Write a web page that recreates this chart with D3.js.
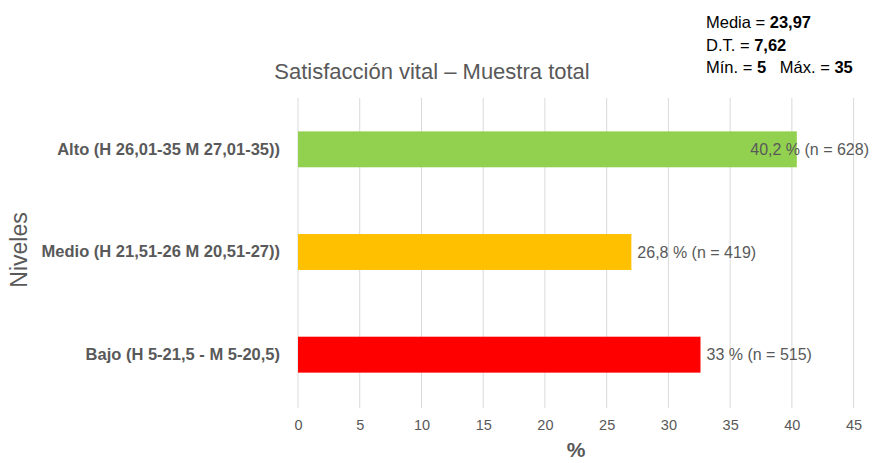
<!DOCTYPE html>
<html>
<head>
<meta charset="utf-8">
<script src="https://cdn.jsdelivr.net/npm/d3@7"></script>
<style>
    body { margin: 0; background: #fff; }
    svg { display: block; }
</style>
</head>
<body>
<div id="chart"></div>
<script>
/******************************************************
 * Satisfacción vital - horizontal bar chart
*******************************************************/

//! DATA
const categories = [
    "Alto (H 26,01-35 M 27,01-35))",
    "Medio (H 21,51-26 M 20,51-27))",
    "Bajo (H 5-21,5 - M 5-20,5)"
];
const values = [40.4, 27.0, 32.6];
const barLabels = ["40,2 % (n = 628)", "26,8 % (n = 419)", "33 % (n = 515)"];
const barColors = ["#92d050", "#ffc000", "#ff0000"];
const xTicks = [0, 5, 10, 15, 20, 25, 30, 35, 40, 45];
const statLines = [
    ["Media = ", "23,97"],
    ["D.T. = ", "7,62"],
    ["Mín. = ", "5", "   Máx. = ", "35"]
];

//! CONSTANTS
const WIDTH = 872;
const HEIGHT = 463;
const FONT = "'Liberation Sans', Arial, sans-serif";
const GRAY = "#595959";
const MARGIN = { top: 98, right: 19, bottom: 57, left: 298 };

/******************************************************
 * Main draw
*******************************************************/
function draw() {
    const svg = d3.select("#chart").append("svg")
        .attr("width", WIDTH)
        .attr("height", HEIGHT)
        .style("font-family", FONT);

    const x = d3.scaleLinear()
        .domain([0, 45])
        .range([MARGIN.left, WIDTH - MARGIN.right + 0.6]);

    const y = d3.scaleBand()
        .domain(categories)
        .range([MARGIN.top, HEIGHT - MARGIN.bottom])
        .paddingInner(0.65)
        .paddingOuter(0.325);

    // Gridlines
    svg.append("g")
        .selectAll("line")
        .data(xTicks)
        .enter().append("line")
        .attr("x1", d => x(d)).attr("x2", d => x(d))
        .attr("y1", MARGIN.top).attr("y2", HEIGHT - MARGIN.bottom + 2)
        .style("stroke", "#d9d9d9")
        .style("stroke-width", 1);

    // X axis (labels only)
    const xAxis = svg.append("g")
        .attr("transform", `translate(0, ${HEIGHT - MARGIN.bottom + 14})`)
        .call(d3.axisBottom(x).tickValues(xTicks).tickSize(0).tickPadding(0));
    xAxis.select(".domain").remove();
    xAxis.selectAll("text")
        .style("font-family", FONT)
        .style("font-size", "14.5px")
        .style("fill", GRAY);

    // Y axis (category labels only)
    const yAxis = svg.append("g")
        .attr("transform", `translate(${MARGIN.left - 18}, 0)`)
        .call(d3.axisLeft(y).tickSize(0).tickPadding(0));
    yAxis.select(".domain").remove();
    yAxis.selectAll("text")
        .style("font-family", FONT)
        .style("font-size", "16.5px")
        .style("font-weight", "bold")
        .style("fill", GRAY);

    // Bars
    svg.append("g")
        .selectAll("rect")
        .data(categories)
        .enter().append("rect")
        .attr("x", x(0))
        .attr("y", d => y(d))
        .attr("width", (d, i) => x(values[i]) - x(0))
        .attr("height", y.bandwidth())
        .style("fill", (d, i) => barColors[i]);

    // Bar labels (pushed back inside when they would overflow)
    const labels = svg.append("g")
        .selectAll("text")
        .data(categories)
        .enter().append("text")
        .attr("y", d => y(d) + y.bandwidth() / 2)
        .attr("dy", "0.35em")
        .style("font-size", "16px")
        .style("fill", GRAY)
        .text((d, i) => barLabels[i]);
    labels.attr("x", function (d, i) {
        const w = this.getComputedTextLength();
        return Math.min(x(values[i]) + 6, WIDTH - 3 - w);
    });

    // Title
    svg.append("text")
        .attr("x", 432)
        .attr("y", 79)
        .attr("text-anchor", "middle")
        .style("font-size", "22px")
        .style("fill", GRAY)
        .text("Satisfacción vital – Muestra total");

    // Axis titles
    svg.append("text")
        .attr("transform", "translate(27, 250) rotate(-90)")
        .attr("text-anchor", "middle")
        .style("font-size", "23px")
        .style("fill", GRAY)
        .text("Niveles");

    svg.append("text")
        .attr("x", 576)
        .attr("y", 457)
        .attr("text-anchor", "middle")
        .style("font-size", "21px")
        .style("font-weight", "bold")
        .style("fill", GRAY)
        .text("%");

    // Stats box
    const stats = svg.append("g");
    statLines.forEach((parts, row) => {
        const t = stats.append("text")
            .attr("x", 706)
            .attr("y", 28 + row * 22.5)
            .style("font-size", "16.5px")
            .style("fill", "#000")
            .attr("xml:space", "preserve");
        parts.forEach((p, j) => {
            t.append("tspan")
                .style("font-weight", j % 2 === 1 ? "bold" : "normal")
                .text(p);
        });
    });
}

draw();
</script>
</body>
</html>
